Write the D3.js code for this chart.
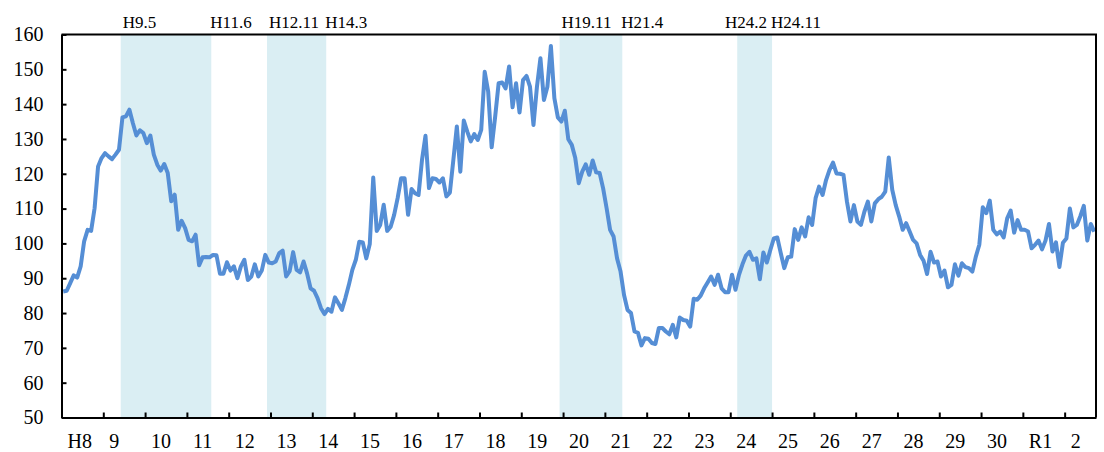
<!DOCTYPE html>
<html>
<head>
<meta charset="utf-8">
<script src="https://d3js.org/d3.v7.min.js"></script>
<style>
  body { margin: 0; background: #fff; }
  svg text { font-family: "Liberation Serif", "DejaVu Serif", serif; fill: #000; }
</style>
</head>
<body>
<div id="chart"></div>
<script>
// first category of the series (monthly)
const firstYear = 1995;
const firstMonth = 12;

// monthly index values
const values = [
  86.2, 86.4, 88.6, 90.8, 90.2, 93.4, 100.6, 103.9, 103.6, 110.1, 122.1, 124.5,
  125.9, 125.0, 124.2, 125.5, 126.9, 136.2, 136.5, 138.4, 134.5, 131.0, 132.5, 131.7,
  128.8, 131.0, 125.5, 122.6, 120.9, 122.8, 120.2, 112.1, 114.0, 103.9, 106.5, 104.4,
  101.0, 100.6, 102.5, 93.7, 96.0, 96.1, 96.0, 96.7, 96.6, 91.3, 91.3, 94.6,
  92.2, 93.4, 90.0, 93.4, 95.3, 89.5, 90.5, 94.0, 90.5, 92.2, 96.7, 94.5,
  94.3, 94.8, 97.2, 97.9, 90.5, 92.0, 97.5, 92.4, 91.7, 94.8, 91.4, 87.1,
  86.4, 84.3, 81.4, 79.7, 81.2, 80.4, 84.5, 82.8, 80.9, 84.3, 88.1, 92.4,
  95.3, 100.5, 100.3, 95.7, 99.8, 118.9, 103.6, 105.3, 111.1, 103.6, 104.8, 108.2,
  113.0, 118.7, 118.7, 108.2, 115.6, 114.4, 113.9, 124.0, 130.9, 115.9, 118.7, 118.5,
  117.5, 118.7, 113.5, 114.6, 124.0, 133.6, 120.6, 135.3, 132.1, 129.3, 131.4, 129.7,
  132.6, 149.3, 143.6, 127.6, 136.4, 146.0, 146.2, 144.5, 150.8, 139.1, 146.0, 137.6,
  146.9, 148.1, 145.0, 134.0, 145.0, 153.2, 141.2, 145.0, 156.7, 141.7, 136.2, 135.0,
  138.1, 129.9, 128.3, 124.5, 117.3, 120.6, 122.7, 119.7, 123.8, 120.4, 120.2, 115.8,
  110.1, 103.9, 102.0, 95.7, 91.9, 85.2, 80.9, 80.0, 74.7, 74.3, 70.7, 72.8,
  72.6, 71.4, 71.1, 75.7, 75.7, 74.7, 73.9, 76.6, 73.0, 78.7, 78.0, 77.8,
  76.1, 84.1, 83.8, 85.0, 87.1, 88.8, 90.5, 88.1, 91.0, 87.1, 86.0, 86.0,
  91.0, 86.7, 91.0, 94.0, 96.5, 97.6, 95.3, 95.7, 89.7, 97.4, 94.5, 98.1,
  101.4, 101.7, 97.2, 92.9, 96.0, 96.2, 104.1, 101.0, 104.6, 102.0, 107.5, 105.3,
  113.0, 116.3, 113.9, 118.2, 121.1, 123.2, 120.1, 120.0, 119.7, 112.0, 106.3, 111.0,
  106.3, 105.3, 109.1, 112.0, 106.3, 111.5, 112.7, 113.4, 114.9, 124.7, 115.4, 111.0,
  107.7, 103.9, 105.8, 103.4, 101.0, 100.0, 96.7, 95.0, 91.2, 97.6, 94.5, 94.8,
  90.5, 92.2, 87.4, 88.1, 94.0, 90.7, 94.3, 93.2, 92.9, 91.9, 96.2, 99.6,
  110.4, 108.7, 112.3, 103.9, 102.6, 103.4, 101.7, 107.2, 109.4, 103.1, 106.7, 103.9,
  103.9, 103.4, 98.6, 99.6, 100.8, 98.3, 100.8, 105.6, 97.7, 100.3, 93.2, 100.2,
  101.4, 110.0, 104.6, 105.3, 107.8, 110.8, 100.8, 105.6, 103.4
];

// one label per 12-month block
const yearLabels = ["H8", "9", "10", "11", "12", "13", "14", "15", "16", "17", "18", "19",
  "20", "21", "22", "23", "24", "25", "26", "27", "28", "29", "30", "R1", "2"];

// shaded periods (Heisei year.month)
const bandStarts = ["H9.5", "H12.11", "H19.11", "H24.2"];
const bandEnds = ["H11.6", "H14.3", "H21.4", "H24.11"];

const yTicks = [50, 60, 70, 80, 90, 100, 110, 120, 130, 140, 150, 160];

const width = 1104;
const height = 452;
const margin = { top: 34.5, right: 8, bottom: 34.5, left: 61.5 };

function categoryOf(label) {
  const [y, m] = label.slice(1).split(".").map(Number);
  return (1988 + y - firstYear) * 12 + (m - firstMonth);
}

const svg = d3.select("#chart").append("svg")
  .attr("width", width)
  .attr("height", height);

const x = d3.scaleLinear()
  .domain([0, values.length])
  .range([margin.left, width - margin.right]);

const y = d3.scaleLinear()
  .domain([50, 160])
  .range([height - margin.bottom, margin.top]);

// bands
const bands = bandStarts.map((s, i) => ({ s, e: bandEnds[i], c0: categoryOf(s), c1: categoryOf(bandEnds[i]) + 1 }));

svg.append("g")
  .selectAll("rect")
  .data(bands)
  .join("rect")
  .attr("x", d => x(d.c0))
  .attr("width", d => x(d.c1) - x(d.c0))
  .attr("y", y(160))
  .attr("height", y(50) - y(160))
  .attr("fill", "#daeef3");

// band labels above the plot
const topLabels = svg.append("g").attr("font-size", 17);
bands.forEach(d => {
  topLabels.append("text")
    .attr("x", x(d.c1) - 1)
    .attr("y", 28)
    .text(d.e);
  const startText = topLabels.append("text")
    .attr("x", x(d.c0) + 2)
    .attr("y", 28)
    .text(d.s);
  const w = startText.node().getComputedTextLength();
  if (x(d.c0) + 2 + w > x(d.c1) - 5) {
    startText.attr("x", x(d.c1) - 5 - w);
  }
});

// line
const line = d3.line()
  .x((d, i) => x(i + 0.5))
  .y(d => y(d));

svg.append("path")
  .datum(values)
  .attr("fill", "none")
  .attr("stroke", "#558ed5")
  .attr("stroke-width", 4)
  .attr("stroke-linejoin", "round")
  .attr("d", line);

// y axis
const yAxis = svg.append("g")
  .attr("transform", `translate(${margin.left},0)`)
  .call(d3.axisLeft(y).tickValues(yTicks).tickSizeInner(-5).tickSizeOuter(0).tickPadding(18));
yAxis.selectAll("text").attr("font-size", 20);

// x axis
const yearTicks = d3.range(12, values.length, 12);
svg.append("g")
  .attr("transform", `translate(0,${y(50)})`)
  .call(d3.axisBottom(x).tickValues(yearTicks).tickSizeInner(-5).tickSizeOuter(0).tickFormat(""));

svg.selectAll(".domain, .tick line")
  .attr("stroke", "#000")
  .attr("stroke-width", 2);

// year labels, left aligned after each tick
svg.append("g")
  .attr("font-size", 20)
  .selectAll("text")
  .data(yearLabels)
  .join("text")
  .attr("x", (d, i) => x(i * 12) + 6)
  .attr("y", 448)
  .text(d => d);

// top and right border
svg.append("path")
  .attr("d", `M${x(0)},${y(160)}H${x(values.length)}V${y(50)}`)
  .attr("fill", "none")
  .attr("stroke", "#000")
  .attr("stroke-width", 2);
</script>
</body>
</html>
